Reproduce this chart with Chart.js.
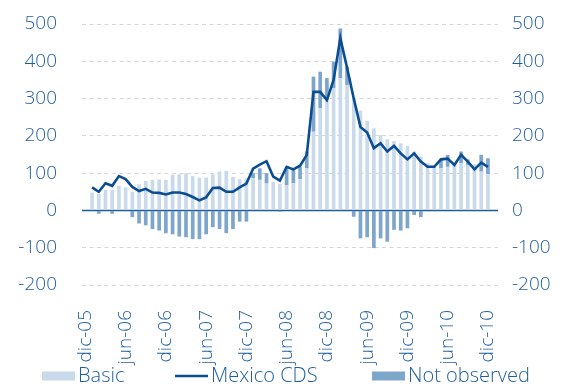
<!DOCTYPE html>
<html>
<head>
<meta charset="utf-8">
<script src="https://cdn.jsdelivr.net/npm/chart.js@4"></script>
<style>
  html, body { margin: 0; padding: 0; background: #fff; }
  #wrap { width: 567px; height: 388px; }
</style>
</head>
<body>
<div id="wrap"><canvas id="cdsChart" width="567" height="388"></canvas></div>
<script>
// meses dic-05 .. ene-11 (primera y última categoría sin datos)
const months = [
  "dic-05",
  "ene-06","feb-06","mar-06","abr-06","may-06","jun-06","jul-06","ago-06","sep-06","oct-06","nov-06","dic-06",
  "ene-07","feb-07","mar-07","abr-07","may-07","jun-07","jul-07","ago-07","sep-07","oct-07","nov-07","dic-07",
  "ene-08","feb-08","mar-08","abr-08","may-08","jun-08","jul-08","ago-08","sep-08","oct-08","nov-08","dic-08",
  "ene-09","feb-09","mar-09","abr-09","may-09","jun-09","jul-09","ago-09","sep-09","oct-09","nov-09","dic-09",
  "ene-10","feb-10","mar-10","abr-10","may-10","jun-10","jul-10","ago-10","sep-10","oct-10","nov-10","dic-10",
  "ene-11"
];

const basic = [
  null,
  48, 44, 55, 55, 66, 62, 50, 70, 79, 82, 83, 82,
  96, 97, 100, 92, 88, 88, 97, 104, 106, 90, 84, 86,
  86, 82, 72, 77, 71, 68, 73, 84, 113, 211, 274, 300,
  328, 354, 336, 302, 268, 240, 220, 202, 191, 186, 180, 173,
  158, 144, 127, 120, 113, 117, 127, 127, 122, 124, 104, 97,
  null
];

const notObserved = [
  null,
  0, -9, 0, -9, 0, 0, -18, -35, -40, -50, -54, -61,
  -64, -70, -72, -77, -77, -64, -45, -50, -61, -50, -30, -30,
  14, 31, 28, 0, -3, 49, 36, 33, 45, 148, 98, 55,
  71, 134, 49, -17, -75, -72, -101, -75, -84, -52, -54, -48,
  -12, -18, -2, 0, 24, 32, 0, 31, 15, 0, 45, 43,
  null
];

const mexicoCds = [
  null,
  62, 50, 73, 66, 92, 84, 63, 52, 58, 48, 47, 43,
  48, 48, 44, 36, 27, 35, 60, 61, 50, 50, 62, 72,
  112, 123, 132, 91, 80, 117, 110, 120, 149, 318, 318, 296,
  350, 462, 383, 300, 224, 209, 167, 180, 158, 173, 153, 137,
  153, 131, 117, 117, 137, 139, 122, 149, 131, 110, 128, 117,
  null
];

const yTicks = { min: -200, max: 500, step: 100 };

const textColor = "#1f5e9f";
const fontFamily = "'Open Sans', sans-serif";
const tickFont = { family: fontFamily, size: 19, weight: 300 };

// línea del cero, continua y azul
const zeroLine = {
  id: "zeroLine",
  beforeDatasetsDraw(chart) {
    const { ctx, chartArea, scales } = chart;
    const y = scales.y.getPixelForValue(0);
    ctx.save();
    ctx.strokeStyle = "#1d5a98";
    ctx.lineWidth = 1.5;
    ctx.beginPath();
    ctx.moveTo(chartArea.left, y);
    ctx.lineTo(chartArea.right, y);
    ctx.stroke();
    ctx.restore();
  }
};

// leyenda inferior dibujada a mano
const bottomLegend = {
  id: "bottomLegend",
  afterDraw(chart) {
    const { ctx } = chart;
    const ds = chart.data.datasets;
    const items = [
      { d: ds[1], x: 42, kind: "box" },
      { d: ds[0], x: 175, kind: "line" },
      { d: ds[2], x: 372, kind: "box" }
    ];
    const y = 376;
    ctx.save();
    ctx.font = "300 20px " + fontFamily;
    ctx.textBaseline = "middle";
    items.forEach(it => {
      if (it.kind === "box") {
        ctx.fillStyle = it.d.backgroundColor;
        ctx.fillRect(it.x, y - 4.5, 33, 9);
      } else {
        ctx.strokeStyle = it.d.borderColor;
        ctx.lineWidth = 2.5;
        ctx.beginPath();
        ctx.moveTo(it.x, y);
        ctx.lineTo(it.x + 33, y);
        ctx.stroke();
      }
      ctx.fillStyle = textColor;
      ctx.fillText(it.d.label, it.x + 36, y);
    });
    ctx.restore();
  }
};

const ctx = document.getElementById("cdsChart").getContext("2d");

new Chart(ctx, {
  data: {
    labels: months,
    datasets: [
      {
        type: "line",
        label: "Mexico CDS",
        data: mexicoCds,
        yAxisID: "y2",
        borderColor: "#0b4d92",
        borderWidth: 2.6,
        pointRadius: 0,
        tension: 0,
        order: 0
      },
      {
        type: "bar",
        label: "Basic",
        data: basic,
        yAxisID: "y",
        backgroundColor: "#c9dbeb",
        barPercentage: 0.55,
        categoryPercentage: 1,
        order: 1
      },
      {
        type: "bar",
        label: "Not observed",
        data: notObserved,
        yAxisID: "y",
        backgroundColor: "#7ea6cb",
        barPercentage: 0.55,
        categoryPercentage: 1,
        order: 2
      }
    ]
  },
  options: {
    responsive: false,
    animation: false,
    layout: { padding: { top: 24, bottom: 17, left: 0, right: 0 } },
    plugins: {
      legend: { display: false },
      tooltip: { enabled: false }
    },
    scales: {
      x: {
        stacked: true,
        offset: true,
        grid: { display: false },
        border: { display: false },
        afterFit(scale) { scale.height = 86; },
        ticks: {
          autoSkip: false,
          minRotation: 90,
          maxRotation: 90,
          padding: 17,
          color: textColor,
          font: tickFont,
          callback(value, index) {
            return index % 6 === 0 && index <= 60 ? months[index] : "";
          }
        }
      },
      y: {
        stacked: true,
        position: "left",
        min: yTicks.min,
        max: yTicks.max,
        afterFit(scale) { scale.width = 82; },
        // marcas invisibles para separar las etiquetas del área
        grid: {
          drawTicks: true,
          tickLength: 22,
          tickColor: "rgba(0,0,0,0)",
          color: c => (c.tick && c.tick.value === 0 ? "rgba(0,0,0,0)" : "#d6d6d6"),
          lineWidth: 1
        },
        border: { display: false, dash: [4, 3.5] },
        ticks: {
          stepSize: yTicks.step,
          padding: 3,
          color: textColor,
          font: tickFont
        }
      },
      y2: {
        position: "right",
        min: yTicks.min,
        max: yTicks.max,
        afterFit(scale) { scale.width = 69; },
        grid: {
          drawOnChartArea: false,
          drawTicks: true,
          tickLength: 11,
          tickColor: "rgba(0,0,0,0)"
        },
        border: { display: false },
        ticks: {
          stepSize: yTicks.step,
          padding: 3,
          color: textColor,
          font: tickFont
        }
      }
    }
  },
  plugins: [zeroLine, bottomLegend]
});
</script>
</body>
</html>
